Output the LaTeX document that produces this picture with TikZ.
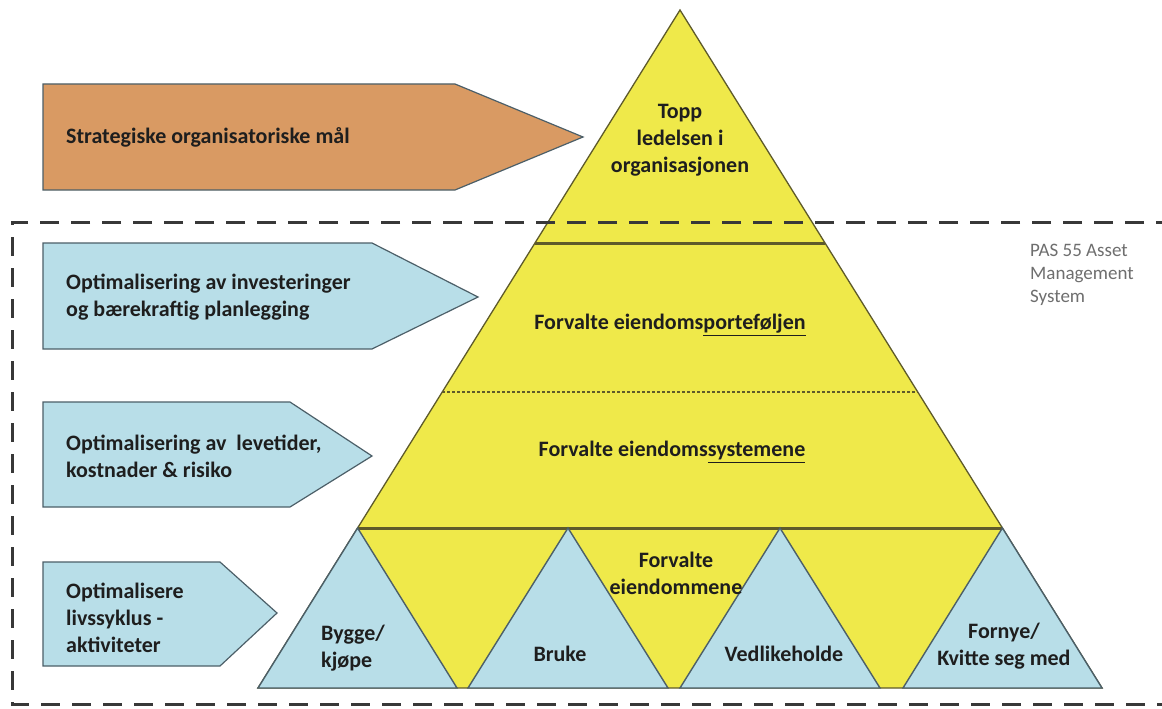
\documentclass[tikz,border=0pt]{standalone}
\usepackage{fontspec}
\setmainfont{Carlito}
\usetikzlibrary{calc}
\definecolor{pyel}{HTML}{EFE94A}
\definecolor{pblue}{HTML}{B8DEE8}
\definecolor{porange}{HTML}{D99A63}
\definecolor{pline}{HTML}{5E5A2A}
\definecolor{bline}{HTML}{4C5F68}
\definecolor{dashc}{HTML}{383838}
\definecolor{txt}{HTML}{1E1E1E}
\definecolor{pas}{HTML}{6E6E6E}
\begin{document}
\begin{tikzpicture}[x=1pt,y=-1pt,
  lbl/.style={font=\fontsize{22}{27}\selectfont\bfseries, text=txt, inner sep=0pt},
  lblc/.style={lbl, align=center},
  lbll/.style={lbl, align=left, anchor=west},
  arrowbox/.style={draw=bline, line width=1.2pt, line join=miter},
  bandline/.style={draw=pline, line width=3pt},
  bluetri/.style={fill=pblue, draw=bline, line width=1.4pt, line join=miter},
  frame/.style={draw=dashc, line width=3pt, dash pattern=on 19pt off 12pt}]
\useasboundingbox (0,0) rectangle (1162,709);
\fill[white] (0,0) rectangle (1162,709);

% pyramid geometry
\coordinate (apex) at (680,10);
\coordinate (bl) at (258,688);
\coordinate (br) at (1102,688);
\coordinate (l1) at ($(apex)!0.3437!(bl)$);
\coordinate (r1) at ($(apex)!0.3437!(br)$);
\coordinate (l2) at ($(apex)!0.5634!(bl)$);
\coordinate (r2) at ($(apex)!0.5634!(br)$);
\coordinate (l3) at ($(apex)!0.764!(bl)$);
\coordinate (r3) at ($(apex)!0.764!(br)$);

\fill[pyel] (apex) -- (bl) -- (br) -- cycle;
\draw[pline, line width=1.3pt, line join=miter] (apex) -- (bl) -- (br) -- cycle;

% band lines
\draw[bandline] (l1) -- (r1);
\draw[pline, line width=1.3pt, dash pattern=on 3pt off 2pt] (l2) -- (r2);
\draw[bandline] (l3) -- (r3);

% blue triangles
\coordinate (t1a) at (l3);
\coordinate (t2a) at (568,528);
\coordinate (t3a) at (780,528);
\coordinate (t4a) at (r3);
\draw[bluetri] (t1a) -- (258,688) -- (457,688) -- cycle;
\draw[bluetri] (t2a) -- (468,688) -- (668,688) -- cycle;
\draw[bluetri] (t3a) -- (680,688) -- (880,688) -- cycle;
\draw[bluetri] (t4a) -- (903,688) -- (1102,688) -- cycle;

% left arrows
\draw[arrowbox, fill=porange] (43,84) -- (455,84) -- (583,137) -- (455,190) -- (43,190) -- cycle;
\draw[arrowbox, fill=pblue] (43,243) -- (372,243) -- (478,297) -- (372,349) -- (43,349) -- cycle;
\draw[arrowbox, fill=pblue] (43,402) -- (290,402) -- (372,456) -- (290,507) -- (43,507) -- cycle;
\draw[arrowbox, fill=pblue] (43,562) -- (220,562) -- (277,613) -- (220,666) -- (43,666) -- cycle;

% texts
\node[lbll] (strat) at (66,137) {Strategiske organisatoriske mål};
\node[lbll] (invest) at (66,297) {Optimalisering av investeringer\\og bærekraftig planlegging};
\node[lbll] (levetid) at (66,456) {Optimalisering av\ \ levetider,\\kostnader \& risiko};
\node[lbll] (livs) at (66,618) {Optimalisere\\livssyklus -\\aktiviteter};

\node[lblc] (topp) at (680,140) {Topp\\ledelsen i\\organisasjonen};
\node[lblc] (portef) at (670,325) {Forvalte eiendoms\underline{porteføljen}};
\node[lblc] (system) at (672,452) {Forvalte eiendoms\underline{systemene}};
\node[lblc] (eiend) at (676,573) {Forvalte\\eiendommene};
\node[lbll] (bygge) at (321,648) {Bygge/\\kjøpe};
\node[lblc] (bruke) at (560,654) {Bruke};
\node[lblc] (vedl) at (784,654) {Vedlikeholde};
\node[lblc] (fornye) at (1004,646) {Fornye/\\Kvitte seg med};

\node[font=\fontsize{19}{23}\selectfont, text=pas, align=left, anchor=north west, inner sep=0pt] (pasn) at (1030,244) {PAS 55 Asset\\Management\\System};

% dashed frame
\draw[frame] (1175,222) -- (12,222) -- (12,704) -- (1175,704);
\end{tikzpicture}
\end{document}
